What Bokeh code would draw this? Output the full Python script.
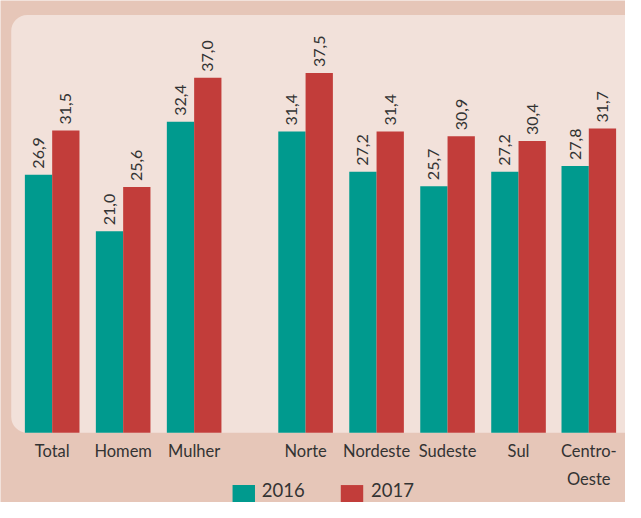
import math
from bokeh.plotting import figure
from bokeh.models import ColumnDataSource, Range1d
from bokeh.core.properties import value
from bokeh.embed import file_html
from bokeh.resources import INLINE

categories = ["Total", "Homem", "Mulher", "Norte", "Nordeste", "Sudeste", "Sul", "Centro-\nOeste"]
positions = [0, 1, 2, 3.57, 4.57, 5.57, 6.57, 7.56]
values_2016 = [26.9, 21.0, 32.4, 31.4, 27.2, 25.7, 27.2, 27.8]
values_2017 = [31.5, 25.6, 37.0, 37.5, 31.4, 30.9, 30.4, 31.7]
series_names = ["2016", "2017"]

TEAL = "#009a8e"
RED = "#c23d3a"
OUTER = "#e6c6b8"
PANEL = "#f2e1da"
TXT = "#333333"
FONT = "Lato"

W, H = 625, 502
SX, SY = W / 641.0, H / 518.0
X0 = 53 * SX          # pixel of first category centre
DX = 72.8 * SX        # pixels per category unit
Y0 = 446 * SY         # baseline pixel
DY = 9.9 * SY         # pixels per value unit

def fx(px):
    return (px * SX - X0) / DX

def fy(py):
    return (Y0 - py * SY) / DY

p = figure(width=W, height=H, output_backend="svg", toolbar_location=None,
           x_axis_type=None, y_axis_type=None,
           x_range=Range1d(fx(0), fx(641)), y_range=Range1d(fy(518), fy(0)),
           min_border=0, min_border_left=0, min_border_right=0,
           min_border_top=0, min_border_bottom=0)
p.border_fill_color = OUTER
p.background_fill_color = OUTER
p.outline_line_color = None
p.grid.visible = False

# panel
p.quad(left=[fx(11)], right=[fx(680)], bottom=[fy(446)], top=[fy(15)],
       fill_color=PANEL, line_color=None, border_radius=16)

bw = 28 * SX / DX
x16 = [x - bw / 2 for x in positions]
x17 = [x + bw / 2 for x in positions]

src16 = ColumnDataSource(dict(x=x16, top=values_2016,
                              lab=[f"{v:.1f}".replace(".", ",") for v in values_2016]))
src17 = ColumnDataSource(dict(x=x17, top=values_2017,
                              lab=[f"{v:.1f}".replace(".", ",") for v in values_2017]))

p.vbar(x="x", top="top", bottom=0, width=bw, source=src16, fill_color=TEAL, line_color=None)
p.vbar(x="x", top="top", bottom=0, width=bw, source=src17, fill_color=RED, line_color=None)

gap = 6 / DY
for src in (src16, src17):
    d = src.data
    ts = ColumnDataSource(dict(x=d["x"], y=[t + gap for t in d["top"]], lab=d["lab"]))
    p.text(x="x", y="y", text="lab", source=ts, angle=math.pi / 2,
           text_align="left", text_baseline="middle",
           text_font=value(FONT), text_font_size="16px", text_color=TXT)

# category labels
cs = ColumnDataSource(dict(x=positions, y=[fy(455)] * len(positions), t=categories))
p.text(x="x", y="y", text="t", source=cs, text_align="center", text_baseline="top",
       text_font=value(FONT), text_font_size="16.5px", text_color=TXT,
       text_line_height=1.4)

# legend
lx = [fx(249.5), fx(360.5)]
ly = [fy(511.5)] * 2
p.rect(x=lx, y=ly, width=23 * SX, height=23 * SY, width_units="screen",
       height_units="screen", fill_color=[TEAL, RED], line_color=None)
p.text(x=[fx(268), fx(380)], y=[fy(505)] * 2, text=series_names,
       text_align="left", text_baseline="middle",
       text_font=value(FONT), text_font_size="18.5px", text_color=TXT)

open("out.html", "w").write(file_html(p, INLINE))
